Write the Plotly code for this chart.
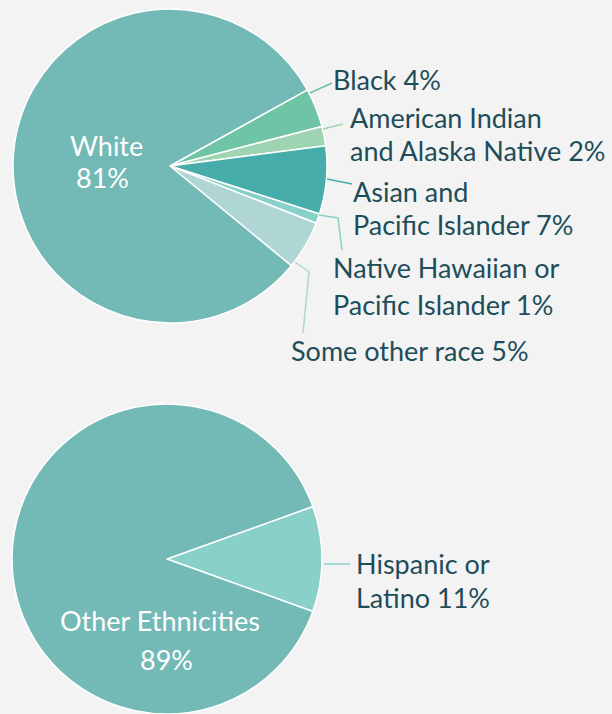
import plotly.graph_objects as go

W, H = 612, 714

# ---- data ----
race_labels = ["Black", "American Indian and Alaska Native", "Asian and Pacific Islander",
               "Native Hawaiian or Pacific Islander", "Some other race", "White"]
race_values = [4, 2, 7, 1, 5, 81]
eth_labels = ["Hispanic or Latino", "Other Ethnicities"]
eth_values = [11, 89]

# ---- styles ----
race_colors = ["#6ec4a5", "#9fd4b3", "#46adab", "#88d1c9", "#afd5d4", "#73b9b6"]
eth_colors = ["#89d0c8", "#73b9b6"]
TXT = "#1e4d5a"
FONT = "Lato"
FS = 27

def px(x):
    return x / W

def py(y):
    return 1 - y / H

fig = go.Figure()
fig.add_trace(go.Pie(
    labels=race_labels, values=race_values, sort=False, direction="clockwise",
    rotation=61, marker=dict(colors=race_colors, line=dict(color="white", width=1.5)),
    textinfo="none", hoverinfo="label+percent", showlegend=False,
    domain=dict(x=[px(13), px(327)], y=[py(323), py(9)]),
))
fig.add_trace(go.Pie(
    labels=eth_labels, values=eth_values, sort=False, direction="clockwise",
    rotation=70.2, marker=dict(colors=eth_colors, line=dict(color="white", width=1.5)),
    textinfo="none", hoverinfo="label+percent", showlegend=False,
    domain=dict(x=[px(10), px(324)], y=[0, py(404)]),
))

# callout text lines: (text, x, y, anchor, color)
texts = [
    ("Black 4%", 331, 79, "left", TXT),
    ("American Indian", 348, 117, "left", TXT),
    ("and Alaska Native 2%", 348, 150, "left", TXT),
    ("Asian and", 351, 191.5, "left", TXT),
    ("Pacific Islander 7%", 351, 223.5, "left", TXT),
    ("Native Hawaiian or", 331, 267, "left", TXT),
    ("Pacific Islander 1%", 331, 304, "left", TXT),
    ("Some other race 5%", 289, 350, "left", TXT),
    ("White", 106, 145, "center", "white"),
    ("81%", 102, 177, "center", "white"),
    ("Hispanic or", 354, 563, "left", TXT),
    ("Latino 11%", 354, 597, "left", TXT),
    ("Other Ethnicities", 160, 619.5, "center", "white"),
    ("89%", 166, 659, "center", "white"),
]
for t, x, y, anc, col in texts:
    fig.add_annotation(text=t, x=px(x), y=py(y + 0.5), xref="paper", yref="paper",
                       xanchor=anc, yanchor="middle", showarrow=False,
                       font=dict(family=FONT, size=FS, color=col))

# leader lines (pixel polylines)
leaders = [
    ([(310, 93), (332, 83)], race_colors[0]),
    ([(323, 129), (343, 124)], race_colors[1]),
    ([(327, 179), (352, 184)], race_colors[2]),
    ([(319, 215), (338, 218), (342, 250)], race_colors[3]),
    ([(295, 262), (309, 272), (303, 333)], race_colors[4]),
    ([(324, 564), (350, 564)], eth_colors[0]),
]
for pts, col in leaders:
    path = "M " + " L ".join(f"{px(x)},{py(y)}" for x, y in pts)
    fig.add_shape(type="path", path=path, xref="paper", yref="paper",
                  line=dict(color=col, width=1.5))

fig.update_layout(width=W, height=H, margin=dict(l=0, r=0, t=0, b=0),
                  paper_bgcolor="#f3f3f3", plot_bgcolor="#f3f3f3")
fig.write_html("out.html", config={"displayModeBar": False},
               post_script="document.body.style.margin='0';document.body.style.background='#f3f3f3';")
